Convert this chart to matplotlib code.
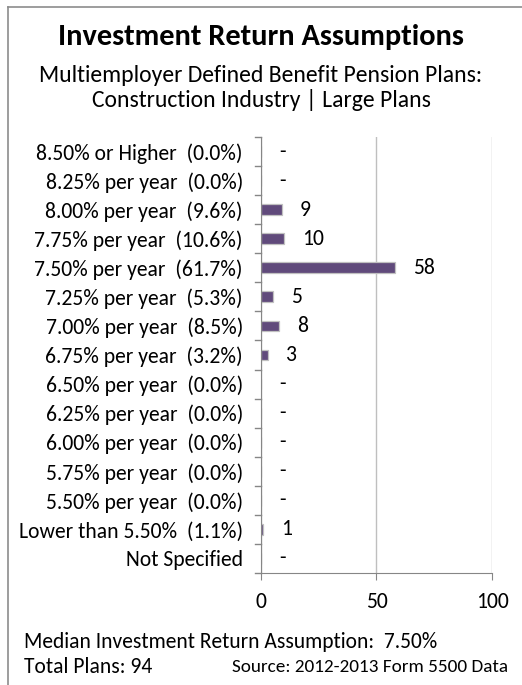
import matplotlib
matplotlib.use("Agg")
import matplotlib.pyplot as plt
from matplotlib.lines import Line2D

plt.rcParams["font.family"] = ["Carlito", "DejaVu Sans"]

categories = [
    "8.50% or Higher  (0.0%)",
    "8.25% per year  (0.0%)",
    "8.00% per year  (9.6%)",
    "7.75% per year  (10.6%)",
    "7.50% per year  (61.7%)",
    "7.25% per year  (5.3%)",
    "7.00% per year  (8.5%)",
    "6.75% per year  (3.2%)",
    "6.50% per year  (0.0%)",
    "6.25% per year  (0.0%)",
    "6.00% per year  (0.0%)",
    "5.75% per year  (0.0%)",
    "5.50% per year  (0.0%)",
    "Lower than 5.50%  (1.1%)",
    "Not Specified",
]
plan_counts = [0, 0, 9, 10, 58, 5, 8, 3, 0, 0, 0, 0, 0, 1, 0]
x_ticks = [0, 50, 100]

BAR = "#604a7b"
SPINE = "#868686"
GRID = "#bfbfbf"
FS = 15.6

fig = plt.figure(figsize=(5.22, 6.85), dpi=100)
ax = fig.add_axes([0.5, 0.1635, 0.4425, 0.6365])

n = len(categories)
ypos = list(range(n))
ax.barh(ypos, plan_counts, height=0.37, color=BAR, edgecolor="#c0c0c0", linewidth=0.9, zorder=3)

for y, v in zip(ypos, plan_counts):
    label = str(v) if v > 0 else "-"
    ax.annotate(label, xy=(v, y), xytext=(13, 0), textcoords="offset points",
                va="center", ha="left", fontsize=FS, color="black")

ax.set_xlim(0, 100)
ax.set_ylim(n - 0.5, -0.5)
ax.set_xticks(x_ticks)
ax.set_xticklabels([str(t) for t in x_ticks], fontsize=FS)
ax.set_yticks(ypos)
ax.set_yticklabels(categories, fontsize=FS)
ax.tick_params(axis="y", length=0, pad=13)
ax.tick_params(axis="x", length=5, color=SPINE, pad=9)

# boundary ticks on the category axis
for b in range(n + 1):
    ax.plot([-2.7, 0], [b - 0.5, b - 0.5], color=SPINE, lw=1, clip_on=False, zorder=4)

ax.grid(axis="x", color=GRID, lw=1, zorder=0)
for s in ["top", "right"]:
    ax.spines[s].set_visible(False)
ax.spines["left"].set_color(SPINE)
ax.spines["bottom"].set_color(SPINE)
ax.spines["left"].set_zorder(4)

# outer frame
fig.add_artist(Line2D([8 / 522, 8 / 522], [0, 1 - 7 / 685], color="#8c8c8c", lw=1.2))
fig.add_artist(Line2D([8 / 522, 1], [1 - 7 / 685, 1 - 7 / 685], color="#8c8c8c", lw=1.2))

fig.text(0.5, 1 - 37 / 685, "Investment Return Assumptions", ha="center", va="center",
         fontsize=21.9, fontweight="bold")
fig.text(0.5, 1 - 76 / 685, "Multiemployer Defined Benefit Pension Plans:", ha="center",
         va="center", fontsize=17)
fig.text(0.5, 1 - 100 / 685, "Construction Industry | Large Plans", ha="center",
         va="center", fontsize=17)

fig.text(24 / 522, 1 - 642 / 685, "Median Investment Return Assumption:  7.50%",
         ha="left", va="center", fontsize=15.5)
fig.text(24 / 522, 1 - 667 / 685, "Total Plans: 94", ha="left", va="center", fontsize=15.5)
fig.text(508 / 522, 1 - 667 / 685, "Source: 2012-2013 Form 5500 Data", ha="right",
         va="center", fontsize=13.8)

fig.savefig("out.png", dpi=100)
